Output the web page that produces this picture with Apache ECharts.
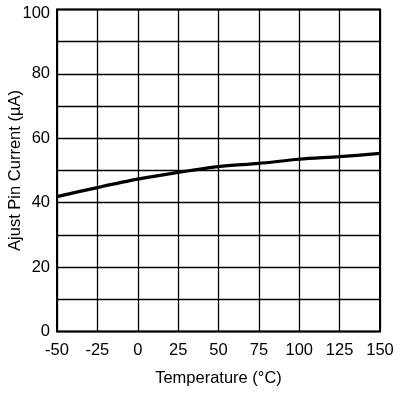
<!DOCTYPE html>
<html><head><meta charset="utf-8">
<script src="https://cdn.jsdelivr.net/npm/echarts@6/dist/echarts.min.js"></script>
<style>html,body{margin:0;padding:0;background:#fff}#c{width:400px;height:394px}</style>
</head><body><div id="c"></div>
<script>
const temperatures = [-50, -25, 0, 25, 50, 75, 100, 125, 150];
const adjustCurrent = [41.9, 44.7, 47.3, 49.4, 51.2, 52.2, 53.5, 54.3, 55.3];
const yTickLabels = [0, 20, 40, 60, 80, 100];
const xName = 'Temperature (°C)';
const yName = 'Ajust Pin Current (µA)';

const font = 'Liberation Sans, Arial, sans-serif';
const chart = echarts.init(document.getElementById('c'), null, {renderer: 'canvas'});
chart.setOption({
  animation: false,
  grid: {left: 57, right: 20, top: 9.5, bottom: 62.5, show: true, borderColor: '#000', borderWidth: 2,
    backgroundColor: 'transparent', containLabel: false, outerBoundsMode: 'none'},
  xAxis: {
    type: 'value', min: -50, max: 150, interval: 25,
    name: xName, nameLocation: 'middle', nameGap: 38, nameMoveOverlap: false,
    nameTextStyle: {fontFamily: font, fontSize: 16.5, color: '#000'},
    axisLine: {show: false}, axisTick: {show: false},
    axisLabel: {fontFamily: font, fontSize: 16.5, color: '#000', margin: 10},
    splitLine: {show: true, lineStyle: {color: '#000', width: 1.3}}
  },
  yAxis: {
    type: 'value', min: 0, max: 100, interval: 10,
    name: yName, nameLocation: 'middle', nameGap: 33, nameMoveOverlap: false,
    nameTextStyle: {fontFamily: font, fontSize: 16.5, color: '#000'},
    axisLine: {show: false}, axisTick: {show: false},
    axisLabel: {fontFamily: font, fontSize: 16.5, color: '#000', margin: 7,
      formatter: v => !yTickLabels.includes(v) ? '' : (v === 100 ? '{top|' + v + '}' : String(v)),
      rich: {top: {fontFamily: font, fontSize: 16.5, color: '#000', padding: [8, 0, 0, 0]}}},
    splitLine: {show: true, lineStyle: {color: '#000', width: 1.3}}
  },
  series: [{
    type: 'line', data: temperatures.map((t, i) => [t, adjustCurrent[i]]),
    smooth: 0.3, symbol: 'none', lineStyle: {color: '#000', width: 3.2}
  }]
});
</script></body></html>
